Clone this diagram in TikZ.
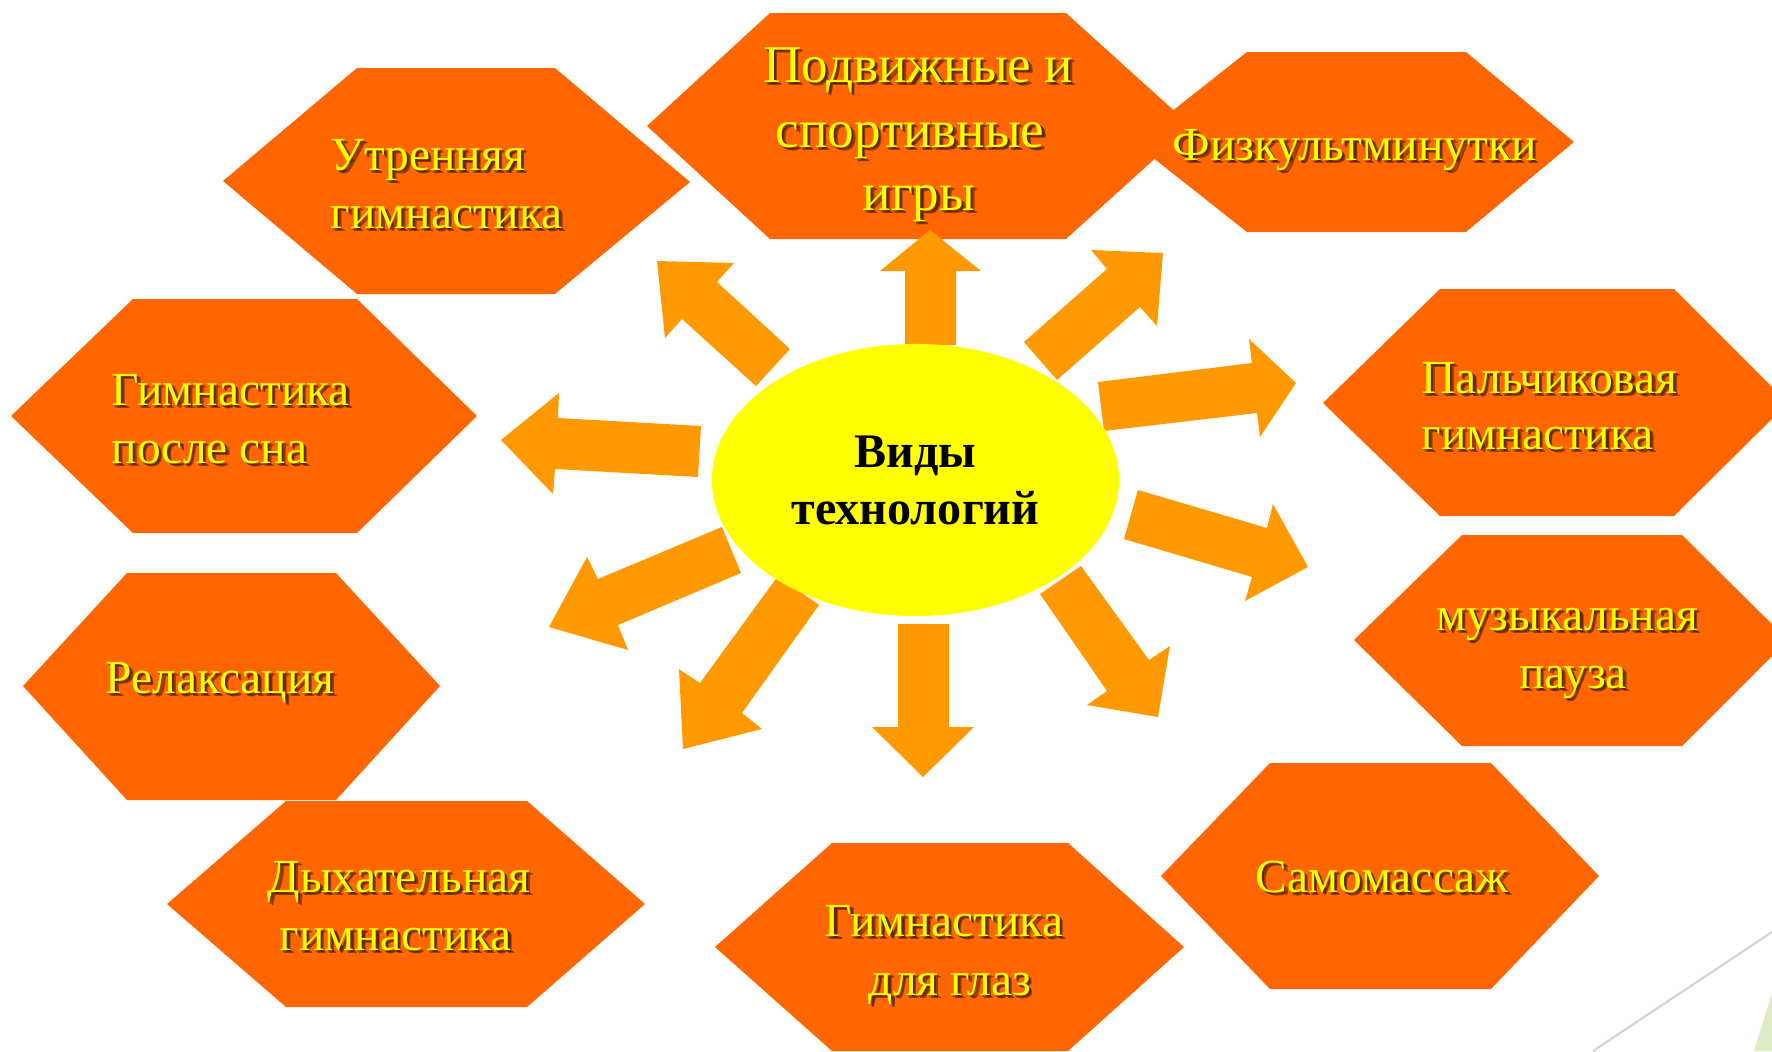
\documentclass[tikz,border=0pt]{standalone}
\usepackage{fontspec}
\setmainfont{Liberation Serif}
\usetikzlibrary{shapes.geometric,calc}
\definecolor{hexor}{HTML}{FF6600}
\definecolor{arrowor}{HTML}{FF9900}
\definecolor{sunyel}{HTML}{FFFF00}
\definecolor{txtyel}{HTML}{FFFF00}
\definecolor{shadowc}{HTML}{1A0C00}
\definecolor{decogray}{HTML}{D4D4D4}
\definecolor{decogreen}{HTML}{DDEBC6}
\tikzset{
  hexfill/.style={fill=hexor},
  ray/.style={fill=arrowor},
  fs/.style={font=\fontsize{13.5}{16}\selectfont},
  fb/.style={font=\fontsize{15.1}{18}\selectfont},
  lbltxt/.style={inner sep=0, text=txtyel},
  lblshadow/.style={inner sep=0, text=shadowc, opacity=0.45},
}
% #1 size style, #2 name, #3 anchor, #4 position, #5 text
\newcommand\ylbl[5]{%
  \node[lblshadow,#1,anchor=#3] (#2s) at ($#4+(3.5,3.5)$) {#5};
  \node[lblshadow,#1,anchor=#3] (#2r) at ($#4+(2.2,2.2)$) {#5};
  \node[lbltxt,#1,anchor=#3] (#2) at #4 {#5};}
\begin{document}
\begin{tikzpicture}[x=0.01cm,y=-0.01cm]
\useasboundingbox (0,0) rectangle (1772,1051);
\clip (0,0) rectangle (1772,1051);
\fill[white] (0,0) rectangle (1772,1051);
% decoration bottom right
\draw[decogray, line width=0.6pt] (1772,932) -- (1593,1051);
\fill[decogreen] (1772,993) -- (1754,1051) -- (1772,1051) -- cycle;
% hexagons
\fill[hexfill] (223,181) -- (357,68) -- (555,68) -- (690,182) -- (555,294) -- (357,294) -- cycle;
\fill[hexfill] (647,126) -- (770,13) -- (1066,13) -- (1191,126) -- (1066,239) -- (770,239) -- cycle;
\fill[hexfill] (1133,142) -- (1247,52) -- (1466,52) -- (1574,142) -- (1466,232) -- (1247,232) -- cycle;
\fill[hexfill] (11,416) -- (133,299) -- (357,299) -- (477,416) -- (357,533) -- (133,533) -- cycle;
\fill[hexfill] (1323,403) -- (1440,289) -- (1674,289) -- (1788,403) -- (1674,516) -- (1440,516) -- cycle;
\fill[hexfill] (23,686) -- (127,573) -- (336,573) -- (440,686) -- (336,800) -- (127,800) -- cycle;
\fill[hexfill] (1354,640) -- (1462,535) -- (1682,535) -- (1788,640) -- (1682,746) -- (1462,746) -- cycle;
\fill[hexfill] (167,904) -- (286,801) -- (527,801) -- (645,904) -- (527,1007) -- (286,1007) -- cycle;
\fill[hexfill] (715,947) -- (832,843) -- (1068,843) -- (1184,947) -- (1068,1051) -- (832,1051) -- cycle;
\fill[hexfill] (1161,876) -- (1270,763) -- (1491,763) -- (1599,876) -- (1491,989) -- (1270,989) -- cycle;
% arrows
\fill[ray] (930,230) -- (981,271) -- (956,271) -- (956,345) -- (905,345) -- (905,271) -- (880,271) -- cycle;
\fill[ray] (1163,253) -- (1157,326) -- (1140,307) -- (1057,380) -- (1024,342) -- (1107,269) -- (1091,250) -- cycle;
\fill[ray] (1296,383) -- (1260,437) -- (1257,413) -- (1104,431) -- (1098,382) -- (1252,363) -- (1249,339) -- cycle;
\fill[ray] (1308,567) -- (1245,601) -- (1252,577) -- (1124,539) -- (1138,490) -- (1267,528) -- (1273,504) -- cycle;
\fill[ray] (1158,717) -- (1087,705) -- (1107,691) -- (1040,594) -- (1081,566) -- (1149,660) -- (1170,646) -- cycle;
\fill[ray] (923,777) -- (872,727) -- (898,727) -- (898,624) -- (949,624) -- (949,727) -- (974,727) -- cycle;
\fill[ray] (683,749) -- (679,669) -- (700,683) -- (778,576) -- (819,605) -- (742,713) -- (762,729) -- cycle;
\fill[ray] (549,627) -- (587,557) -- (598,579) -- (722,527) -- (741,573) -- (618,625) -- (628,650) -- cycle;
\fill[ray] (501,440) -- (559,393) -- (558,418) -- (701,426) -- (698,477) -- (555,469) -- (553,494) -- cycle;
\fill[ray] (657,261) -- (734,263) -- (717,282) -- (790,349) -- (756,386) -- (682,319) -- (665,338) -- cycle;
% centre
\node[ellipse, fill=sunyel, minimum width=4.07cm, minimum height=2.72cm, inner sep=0,
      align=center, font=\bfseries\fontsize{13.7}{16.2}\selectfont] (centre) at (915.5,480) {Виды\\технологий};
% labels
\ylbl{fs}{t1a}{base west}{(330,170)}{Утренняя}
\ylbl{fs}{t1b}{base west}{(330,228)}{гимнастика}
\ylbl{fb}{t2a}{base}{(918,82)}{Подвижные и}
\ylbl{fb}{t2b}{base}{(910,147)}{спортивные}
\ylbl{fb}{t2c}{base}{(919,210)}{игры}
\ylbl{fs}{t3}{base west}{(1172,160)}{Физкультминутки}
\ylbl{fs}{t4a}{base west}{(111,405)}{Гимнастика}
\ylbl{fs}{t4b}{base west}{(111,463)}{после сна}
\ylbl{fs}{t5a}{base west}{(1421,393)}{Пальчиковая}
\ylbl{fs}{t5b}{base west}{(1421,449)}{гимнастика}
\ylbl{fs}{t6}{base west}{(105,693)}{Релаксация}
\ylbl{fs}{t7a}{base}{(1567,630)}{музыкальная}
\ylbl{fs}{t7b}{base}{(1573,688)}{пауза}
\ylbl{fs}{t8a}{base}{(399,892)}{Дыхательная}
\ylbl{fs}{t8b}{base}{(396,950)}{гимнастика}
\ylbl{fs}{t9a}{base}{(944,936)}{Гимнастика}
\ylbl{fs}{t9b}{base}{(950,995)}{для глаз}
\ylbl{fs}{t10}{base}{(1382,892)}{Самомассаж}
\end{tikzpicture}
\end{document}
